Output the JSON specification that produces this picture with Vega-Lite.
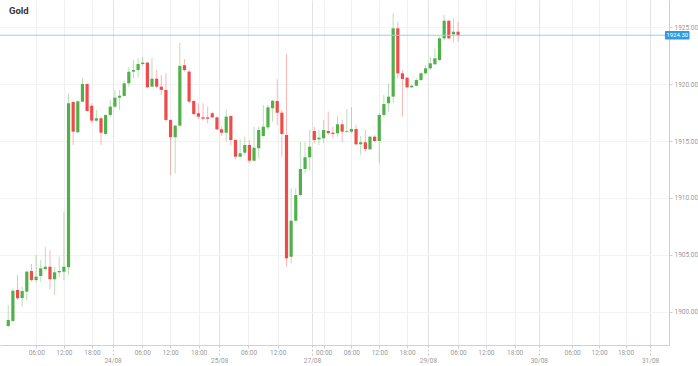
{
  "$schema": "https://vega.github.io/schema/vega-lite/v6.json",
  "width": 669,
  "height": 345,
  "padding": {"left": 0, "top": 0, "right": 29, "bottom": 21},
  "autosize": {"type": "none"},
  "background": "white",
  "config": {"view": {"stroke": null}, "font": "Roboto"},
  "title": {"text": "Gold", "anchor": "start", "frame": "group", "orient": "top", "offset": -15, "dx": 9, "fontSize": 9.5, "fontWeight": "bold", "color": "#333333", "font": "Roboto"},
  "datasets": {
    "candles": [
      {"i":0,"o":1898.73,"h":1900.58,"l":1898.64,"c":1899.26},
      {"i":1,"o":1899.17,"h":1902.0,"l":1899.08,"c":1901.83},
      {"i":2,"o":1901.90,"h":1903.21,"l":1901.02,"c":1901.17},
      {"i":3,"o":1901.19,"h":1902.19,"l":1900.43,"c":1901.81},
      {"i":4,"o":1901.75,"h":1903.6,"l":1900.95,"c":1903.51},
      {"i":5,"o":1903.57,"h":1904.18,"l":1902.63,"c":1902.77},
      {"i":6,"o":1902.77,"h":1904.97,"l":1902.54,"c":1903.07},
      {"i":7,"o":1903.13,"h":1904.53,"l":1902.63,"c":1903.80},
      {"i":8,"o":1903.74,"h":1905.70,"l":1903.65,"c":1903.94},
      {"i":9,"o":1903.94,"h":1905.41,"l":1901.96,"c":1902.84},
      {"i":10,"o":1902.84,"h":1903.94,"l":1901.46,"c":1903.45},
      {"i":11,"o":1903.45,"h":1904.82,"l":1903.07,"c":1903.57},
      {"i":12,"o":1903.51,"h":1908.78,"l":1902.77,"c":1903.94},
      {"i":13,"o":1903.89,"h":1919.20,"l":1903.21,"c":1918.32},
      {"i":14,"o":1918.43,"h":1918.46,"l":1914.65,"c":1915.82},
      {"i":15,"o":1915.77,"h":1918.55,"l":1915.70,"c":1918.49},
      {"i":16,"o":1918.46,"h":1920.51,"l":1918.40,"c":1920.01},
      {"i":17,"o":1920.01,"h":1920.05,"l":1917.60,"c":1917.64},
      {"i":18,"o":1918.10,"h":1918.32,"l":1916.56,"c":1916.79},
      {"i":19,"o":1916.79,"h":1917.73,"l":1916.70,"c":1917.00},
      {"i":20,"o":1917.00,"h":1917.14,"l":1914.65,"c":1915.73},
      {"i":21,"o":1915.62,"h":1917.35,"l":1915.55,"c":1917.29},
      {"i":22,"o":1917.29,"h":1918.6,"l":1917.1,"c":1918.02},
      {"i":23,"o":1918.02,"h":1919.49,"l":1917.88,"c":1918.81},
      {"i":24,"o":1918.81,"h":1919.49,"l":1917.73,"c":1918.98},
      {"i":25,"o":1918.96,"h":1920.3,"l":1918.9,"c":1920.07},
      {"i":26,"o":1920.07,"h":1921.53,"l":1919.78,"c":1921.10},
      {"i":27,"o":1921.10,"h":1922.12,"l":1920.51,"c":1921.24},
      {"i":28,"o":1921.24,"h":1922.3,"l":1920.6,"c":1921.77},
      {"i":29,"o":1921.77,"h":1922.4,"l":1921.6,"c":1921.89},
      {"i":30,"o":1921.89,"h":1921.95,"l":1919.65,"c":1919.72},
      {"i":31,"o":1919.78,"h":1922.30,"l":1919.72,"c":1920.48},
      {"i":32,"o":1920.48,"h":1921.24,"l":1919.64,"c":1919.78},
      {"i":33,"o":1919.78,"h":1920.80,"l":1919.05,"c":1919.49},
      {"i":34,"o":1919.49,"h":1920.95,"l":1916.70,"c":1916.85},
      {"i":35,"o":1916.85,"h":1916.9,"l":1912.01,"c":1915.33},
      {"i":36,"o":1915.33,"h":1916.4,"l":1912.16,"c":1916.35},
      {"i":37,"o":1916.35,"h":1923.62,"l":1916.3,"c":1921.60},
      {"i":38,"o":1921.66,"h":1922.2,"l":1921.1,"c":1921.24},
      {"i":39,"o":1921.10,"h":1921.24,"l":1918.32,"c":1918.46},
      {"i":40,"o":1918.52,"h":1918.61,"l":1917.28,"c":1917.37},
      {"i":41,"o":1917.44,"h":1918.32,"l":1916.91,"c":1917.14},
      {"i":42,"o":1917.08,"h":1918.32,"l":1916.85,"c":1916.96},
      {"i":43,"o":1917.08,"h":1918.02,"l":1916.56,"c":1916.96},
      {"i":44,"o":1917.44,"h":1917.58,"l":1917.0,"c":1917.08},
      {"i":45,"o":1917.08,"h":1917.14,"l":1915.97,"c":1916.03},
      {"i":46,"o":1916.03,"h":1916.26,"l":1915.44,"c":1915.73},
      {"i":47,"o":1915.73,"h":1917.79,"l":1914.94,"c":1917.14},
      {"i":48,"o":1917.20,"h":1917.25,"l":1914.65,"c":1915.09},
      {"i":49,"o":1915.09,"h":1915.15,"l":1913.39,"c":1913.62},
      {"i":50,"o":1913.62,"h":1915.15,"l":1913.55,"c":1913.92},
      {"i":51,"o":1913.97,"h":1915.38,"l":1913.77,"c":1914.65},
      {"i":52,"o":1914.65,"h":1915.09,"l":1913.04,"c":1913.27},
      {"i":53,"o":1913.27,"h":1916.26,"l":1913.2,"c":1914.41},
      {"i":54,"o":1914.36,"h":1916.26,"l":1913.48,"c":1915.97},
      {"i":55,"o":1915.44,"h":1918.17,"l":1915.38,"c":1916.26},
      {"i":56,"o":1916.20,"h":1918.17,"l":1915.97,"c":1917.96},
      {"i":57,"o":1917.88,"h":1918.61,"l":1916.70,"c":1918.54},
      {"i":58,"o":1918.52,"h":1920.43,"l":1916.41,"c":1917.49},
      {"i":59,"o":1917.49,"h":1917.73,"l":1913.62,"c":1915.62},
      {"i":60,"o":1915.53,"h":1922.65,"l":1903.94,"c":1904.68},
      {"i":61,"o":1904.82,"h":1910.84,"l":1904.24,"c":1907.99},
      {"i":62,"o":1907.99,"h":1910.84,"l":1907.90,"c":1910.25},
      {"i":63,"o":1910.25,"h":1914.94,"l":1910.15,"c":1912.54},
      {"i":64,"o":1912.54,"h":1914.94,"l":1912.16,"c":1913.57},
      {"i":65,"o":1913.57,"h":1915.97,"l":1912.45,"c":1914.50},
      {"i":66,"o":1915.88,"h":1916.26,"l":1914.80,"c":1915.09},
      {"i":67,"o":1915.15,"h":1915.97,"l":1914.65,"c":1915.29},
      {"i":68,"o":1915.24,"h":1916.85,"l":1914.80,"c":1915.97},
      {"i":69,"o":1915.88,"h":1917.58,"l":1915.53,"c":1915.70},
      {"i":70,"o":1915.73,"h":1916.26,"l":1915.24,"c":1915.62},
      {"i":71,"o":1915.68,"h":1917.14,"l":1915.38,"c":1916.47},
      {"i":72,"o":1916.47,"h":1916.85,"l":1914.94,"c":1915.82},
      {"i":73,"o":1915.82,"h":1917.79,"l":1915.68,"c":1915.88},
      {"i":74,"o":1915.82,"h":1917.96,"l":1915.68,"c":1916.06},
      {"i":75,"o":1916.06,"h":1916.41,"l":1914.65,"c":1914.71},
      {"i":76,"o":1914.71,"h":1915.44,"l":1913.77,"c":1914.89},
      {"i":77,"o":1914.89,"h":1915.97,"l":1914.06,"c":1914.30},
      {"i":78,"o":1914.27,"h":1915.44,"l":1914.21,"c":1915.38},
      {"i":79,"o":1915.38,"h":1915.53,"l":1914.91,"c":1915.00},
      {"i":80,"o":1915.00,"h":1917.44,"l":1913.04,"c":1917.29},
      {"i":81,"o":1917.29,"h":1919.05,"l":1917.14,"c":1918.25},
      {"i":82,"o":1918.32,"h":1920.07,"l":1917.58,"c":1918.90},
      {"i":83,"o":1918.90,"h":1926.23,"l":1918.32,"c":1924.91},
      {"i":84,"o":1924.91,"h":1925.49,"l":1920.51,"c":1920.95},
      {"i":85,"o":1920.95,"h":1921.24,"l":1917.14,"c":1920.45},
      {"i":86,"o":1920.57,"h":1920.6,"l":1919.65,"c":1919.72},
      {"i":87,"o":1919.72,"h":1919.95,"l":1919.65,"c":1919.86},
      {"i":88,"o":1919.86,"h":1920.51,"l":1919.8,"c":1920.36},
      {"i":89,"o":1920.36,"h":1921.10,"l":1920.3,"c":1920.95},
      {"i":90,"o":1920.95,"h":1921.68,"l":1920.88,"c":1921.39},
      {"i":91,"o":1921.39,"h":1922.41,"l":1921.24,"c":1921.83},
      {"i":92,"o":1921.75,"h":1923.15,"l":1921.68,"c":1922.27},
      {"i":93,"o":1922.12,"h":1924.17,"l":1922.05,"c":1924.03},
      {"i":94,"o":1924.03,"h":1926.08,"l":1923.88,"c":1925.58},
      {"i":95,"o":1925.58,"h":1925.62,"l":1923.95,"c":1924.03},
      {"i":96,"o":1924.38,"h":1925.79,"l":1923.65,"c":1924.61},
      {"i":97,"o":1924.61,"h":1925.49,"l":1923.73,"c":1924.30}
    ],
    "last": [{"price": 1924.30, "label": "1924.30"}]
  },
  "layer": [
    {
      "data": {"name": "candles"},
      "mark": {"type": "rule", "strokeWidth": 1, "opacity": 0.4},
      "encoding": {
        "x": {"field": "i", "type": "quantitative",
          "scale": {"domain": [-0.7, 141.4], "nice": false, "zero": false},
          "axis": {"orient": "bottom", "title": null,
            "values": [6.05, 12, 18.05, 28.9, 34.9, 41.05, 51.8, 58.1, 68, 74, 80, 86, 97, 103, 109.2, 121.6, 127.4, 133.1],
            "labelExpr": "['06:00','12:00','18:00','06:00','12:00','18:00','06:00','12:00','00:00','06:00','12:00','18:00','06:00','12:00','18:00','06:00','12:00','18:00'][indexof([6.05, 12, 18.05, 28.9, 34.9, 41.05, 51.8, 58.1, 68, 74, 80, 86, 97, 103, 109.2, 121.6, 127.4, 133.1], datum.value)]",
            "labelFontSize": 6.5, "labelColor": "#9a9a9a", "labelPadding": 1,
            "tickSize": 3, "tickColor": "#cfcfcf", "domainColor": "#d0d0d0",
            "grid": true, "gridColor": "#f0f0f0", "labelFlush": false, "labelOverlap": false}},
        "y": {"field": "l", "type": "quantitative",
          "scale": {"domain": [1897.06, 1927.40], "nice": false, "zero": false},
          "axis": {"orient": "right", "title": null, "values": [1900, 1905, 1910, 1915, 1920, 1925], "format": ".2f",
            "labelFontSize": 6.5, "labelColor": "#9a9a9a", "labelPadding": 2, "tickSize": 3, "tickColor": "#cfcfcf",
            "domainColor": "#d0d0d0", "grid": true, "gridColor": "#f3f3f3"}},
        "y2": {"field": "h"},
        "color": {"condition": {"test": "datum.c >= datum.o", "value": "#52b04a"}, "value": "#f04b4b"}
      }
    },
    {
      "data": {"name": "candles"},
      "mark": {"type": "bar", "size": 3.2, "orient": "vertical"},
      "encoding": {
        "x": {"field": "i", "type": "quantitative", "scale": {"domain": [-0.7, 141.4], "nice": false, "zero": false},
          "axis": {"orient": "bottom", "title": null,
            "values": [22.5, 45.5, 65.5, 90.5, 114.4, 138.4],
            "labelExpr": "['24/08','25/08','27/08','29/08','30/08','31/08'][indexof([22.5, 45.5, 65.5, 90.5, 114.4, 138.4], datum.value)]",
            "labelFontSize": 6.5, "labelColor": "#9a9a9a", "labelPadding": 1,
            "tickSize": 11, "tickColor": "#c8c8c8", "tickDash": [2, 2], "domain": false,
            "grid": true, "gridColor": "#e2e2e2", "labelFlush": false, "labelOverlap": false}},
        "y": {"field": "o", "type": "quantitative"},
        "y2": {"field": "c"},
        "color": {"condition": {"test": "datum.c >= datum.o", "value": "#52b04a"}, "value": "#f04b4b"}
      }
    },
    {
      "data": {"name": "last"},
      "mark": {"type": "rule", "color": "#8dd3f3", "strokeWidth": 1.2},
      "encoding": {"y": {"field": "price", "type": "quantitative"}}
    },
    {
      "data": {"name": "last"},
      "mark": {"type": "rect", "color": "#2b9be3", "cornerRadius": 1},
      "encoding": {
        "x": {"datum": 141.6, "type": "quantitative", "axis": null},
        "x2": {"datum": 146.9},
        "y": {"datum": 1924.68, "type": "quantitative"},
        "y2": {"datum": 1923.92}
      }
    },
    {
      "data": {"name": "last"},
      "mark": {"type": "text", "color": "white", "fontSize": 6, "align": "center", "baseline": "middle"},
      "encoding": {
        "x": {"datum": 144.25, "type": "quantitative", "axis": null},
        "y": {"field": "price", "type": "quantitative"},
        "text": {"field": "label"}
      }
    }
  ],
  "resolve": {"axis": {"x": "independent"}}
}
